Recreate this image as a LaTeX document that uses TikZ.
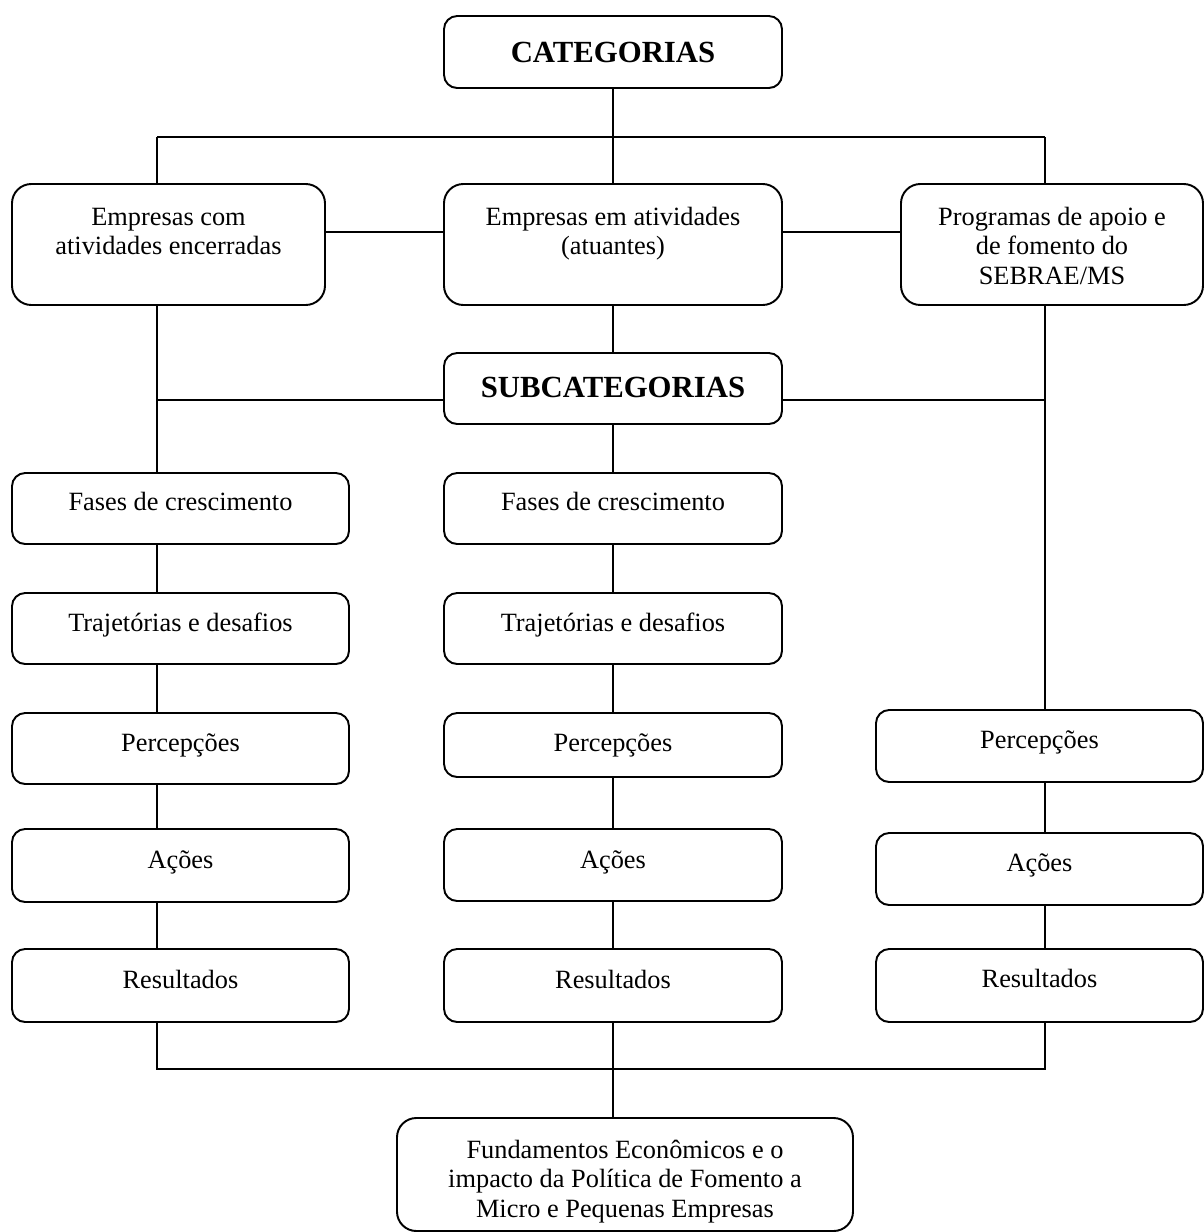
\documentclass[tikz,border=0pt]{standalone}
\usepackage{fontspec}
\setmainfont{Liberation Serif}
\usetikzlibrary{calc}

\newlength{\px}
\setlength{\px}{0.02cm}
% box contents: height, width (in px), first baseline, text
\newcommand{\caixa}[4]{\parbox[c][#1\px][t]{#2\px}{\centering\rule{0pt}{#3\px}#4}}

\begin{document}
\begin{tikzpicture}[
     x=0.02cm, y=-0.02cm,
     line width=1.1pt,
     cx/.style={draw,rounded corners=7.5pt,inner sep=0pt,font=\fontsize{15}{17}\selectfont},
     cxalta/.style={cx,rounded corners=11pt},
     titulo/.style={cx,font=\fontsize{17.5}{20}\selectfont\bfseries}
   ]
   \useasboundingbox (0,0) rectangle (1204,1232);
   % Categorias.
   \node[titulo] (cat) at (613,52) {\caixa{72}{338}{46}{CATEGORIAS}};
   \node[cxalta] (encer) at (168.5,244.5) {\caixa{121}{313}{41}{Empresas com\\atividades encerradas}};
   \node[cxalta] (atuan) at (613,244.5) {\caixa{121}{338}{41}{Empresas em atividades\\(atuantes)}};
   \node[cxalta] (prog) at (1052,244.5) {\caixa{121}{302}{41}{Programas de apoio e\\de fomento do\\SEBRAE/MS}};
   \node[titulo] (subcat) at (613,388.5) {\caixa{71}{338}{44}{SUBCATEGORIAS}};
   % Subcategorias, coluna esquerda.
   \node[cx] (lfases) at (180.5,508.5) {\caixa{71}{337}{37}{Fases de crescimento}};
   \node[cx] (ltraj) at (180.5,628.5) {\caixa{71}{337}{38}{Trajetórias e desafios}};
   \node[cx] (lperc) at (180.5,748.5) {\caixa{71}{337}{38}{Percepções}};
   \node[cx] (lacoes) at (180.5,865.5) {\caixa{73}{337}{39}{Ações}};
   \node[cx] (lres) at (180.5,985.5) {\caixa{73}{337}{39}{Resultados}};
   % Subcategorias, coluna central.
   \node[cx] (mfases) at (613,508.5) {\caixa{71}{338}{37}{Fases de crescimento}};
   \node[cx] (mtraj) at (613,628.5) {\caixa{71}{338}{38}{Trajetórias e desafios}};
   \node[cx] (mperc) at (613,745) {\caixa{64}{338}{38}{Percepções}};
   \node[cx] (macoes) at (613,865) {\caixa{72}{338}{39}{Ações}};
   \node[cx] (mres) at (613,985.5) {\caixa{73}{338}{39}{Resultados}};
   % Subcategorias, coluna direita.
   \node[cx] (rperc) at (1039.5,746) {\caixa{72}{327}{38}{Percepções}};
   \node[cx] (racoes) at (1039.5,869) {\caixa{72}{327}{38}{Ações}};
   \node[cx] (rres) at (1039.5,985.5) {\caixa{73}{327}{38}{Resultados}};
   % Fundamentos.
   \node[cxalta] (fund) at (625,1174.5) {\caixa{113}{456}{40}{Fundamentos Econômicos e o\\impacto da Política de Fomento a\\Micro e Pequenas Empresas}};
   % Barramentos.
   \coordinate (bL) at (157,137);
   \coordinate (bM) at (613,137);
   \coordinate (bR) at (1045,137);
   \coordinate (sL) at (157,400);
   \coordinate (sR) at (1045,400);
   \coordinate (fL) at (157,1069);
   \coordinate (fM) at (613,1069);
   \coordinate (fR) at (1045,1069);
   % Ligacoes.
   \draw (cat) -- (bM);
   \draw (bL) -- (bR);
   \draw (bL) -- (bL |- encer.north);
   \draw (bM) -- (atuan);
   \draw (bR) -- (bR |- prog.north);
   \draw (encer.east |- 0,232) -- (atuan.west |- 0,232);
   \draw (atuan.east |- 0,232) -- (prog.west |- 0,232);
   \draw (atuan) -- (subcat);
   \draw (encer.south -| sL) -- (lfases.north -| sL);
   \draw (sL) -- (sL -| subcat.west);
   \draw (sR) -- (sR -| subcat.east);
   \draw (prog.south -| sR) -- (rperc.north -| sR);
   \draw (subcat) -- (mfases);
   \foreach \a/\b in {lfases/ltraj,ltraj/lperc,lperc/lacoes,lacoes/lres}
     \draw (\a.south -| sL) -- (\b.north -| sL);
   \foreach \a/\b in {mfases/mtraj,mtraj/mperc,mperc/macoes,macoes/mres}
     \draw (\a) -- (\b);
   \foreach \a/\b in {rperc/racoes,racoes/rres}
     \draw (\a.south -| sR) -- (\b.north -| sR);
   \draw (lres.south -| fL) -- (fL) -- (fR) -- (rres.south -| fR);
   \draw (mres) -- (fM);
   \draw (fM) -- (fund.north -| fM);
 \end{tikzpicture}
\end{document}
